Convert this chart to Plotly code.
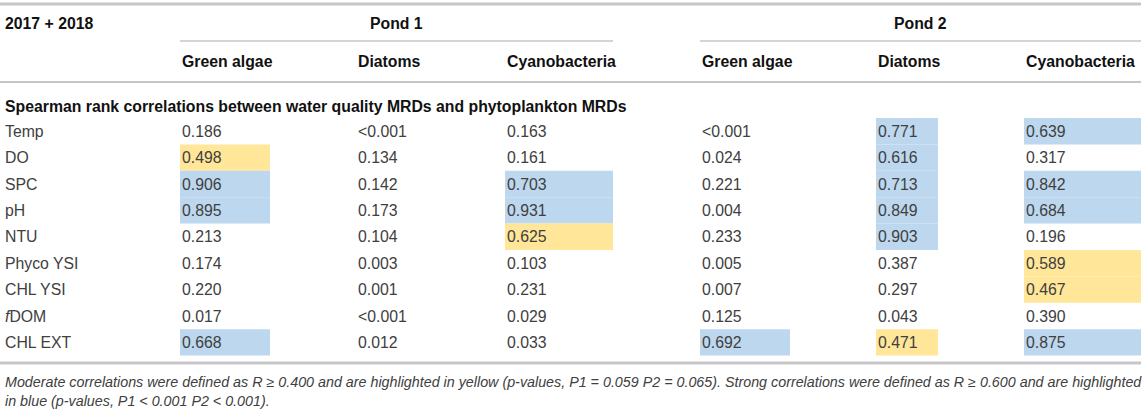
import plotly.graph_objects as go

# --- data -------------------------------------------------------------
period = "2017 + 2018"
ponds = ["Pond 1", "Pond 2"]
taxa = ["Green algae", "Diatoms", "Cyanobacteria"]
section = "Spearman rank correlations between water quality MRDs and phytoplankton MRDs"
variables = ["Temp", "DO", "SPC", "pH", "NTU", "Phyco YSI", "CHL YSI", "<i>f</i>DOM", "CHL EXT"]

p1_green = ["0.186", "0.498", "0.906", "0.895", "0.213", "0.174", "0.220", "0.017", "0.668"]
p1_diatoms = ["<0.001", "0.134", "0.142", "0.173", "0.104", "0.003", "0.001", "<0.001", "0.012"]
p1_cyano = ["0.163", "0.161", "0.703", "0.931", "0.625", "0.103", "0.231", "0.029", "0.033"]
p2_green = ["<0.001", "0.024", "0.221", "0.004", "0.233", "0.005", "0.007", "0.125", "0.692"]
p2_diatoms = ["0.771", "0.616", "0.713", "0.849", "0.903", "0.387", "0.297", "0.043", "0.471"]
p2_cyano = ["0.639", "0.317", "0.842", "0.684", "0.196", "0.589", "0.467", "0.390", "0.875"]

# highlight class per cell: m = moderate (yellow), s = strong (blue)
p1_green_hl = ["", "m", "s", "s", "", "", "", "", "s"]
p1_diatoms_hl = ["", "", "", "", "", "", "", "", ""]
p1_cyano_hl = ["", "", "s", "s", "m", "", "", "", ""]
p2_green_hl = ["", "", "", "", "", "", "", "", "s"]
p2_diatoms_hl = ["s", "s", "s", "s", "s", "", "", "", "m"]
p2_cyano_hl = ["s", "", "s", "s", "", "m", "m", "", "s"]

footnote = ("Moderate correlations were defined as R ≥ 0.400 and are highlighted in yellow "
            "(p-values, P1 = 0.059 P2 = 0.065). Strong correlations were defined as R ≥ 0.600 "
            "and are highlighted<br>in blue (p-values, P1 < 0.001 P2 < 0.001).")

# --- layout constants (pixels) ----------------------------------------
W, H = 1145, 413
RIGHT = 1141
col_x = [180, 356, 505, 700, 876, 1024]
hl_w = [90, 0, 108, 90, 62, 117]
row_y0 = 118
row_h = 26.4
FONT = "Liberation Sans, Arial, sans-serif"
HL_COLORS = {"m": "#FFE699", "s": "#BDD7EE"}
LINE = "#C6C6C6"

columns = [p1_green, p1_diatoms, p1_cyano, p2_green, p2_diatoms, p2_cyano]
highlights = [p1_green_hl, p1_diatoms_hl, p1_cyano_hl, p2_green_hl, p2_diatoms_hl, p2_cyano_hl]

fig = go.Figure()
shapes = []
annotations = []


def text(x, y, s, size=15.8, bold=False, italic=False, color="#404040", anchor="left"):
    if bold:
        s = f"<b>{s}</b>"
    if italic:
        s = f"<i>{s}</i>"
    annotations.append(dict(
        x=x, y=y, xref="x", yref="y", text=s, showarrow=False,
        xanchor=anchor, yanchor="middle", align="left",
        font=dict(family=FONT, size=size, color=color),
    ))


def hline(y, x0, x1, width):
    shapes.append(dict(type="line", xref="x", yref="y", x0=x0, x1=x1, y0=y, y1=y,
                       line=dict(color=LINE, width=width), layer="below"))


# highlighted cells
for c, (vals, hls) in enumerate(zip(columns, highlights)):
    for r, h in enumerate(hls):
        if h:
            shapes.append(dict(
                type="rect", xref="x", yref="y",
                x0=col_x[c], x1=col_x[c] + hl_w[c],
                y0=row_y0 + r * row_h, y1=row_y0 + (r + 1) * row_h,
                fillcolor=HL_COLORS[h], line=dict(width=0), layer="below",
            ))

# rules
hline(4, 0, RIGHT, 3)
hline(41, col_x[0], 613, 1.5)
hline(41, col_x[3], RIGHT, 1.5)
hline(82, 0, RIGHT, 2)
hline(363, 0, RIGHT, 3)

# header
text(3, 23, period, bold=True, color="#111111")
text((col_x[0] + 613) / 2, 23, ponds[0], bold=True, color="#111111", anchor="center")
text((col_x[3] + RIGHT) / 2, 23, ponds[1], bold=True, color="#111111", anchor="center")
for c in range(6):
    text(col_x[c], 61, taxa[c % 3], bold=True, color="#111111")
text(3, 106, section, bold=True, color="#111111")

# body
for r, v in enumerate(variables):
    yc = row_y0 + (r + 0.5) * row_h
    text(3, yc, v)
    for c, vals in enumerate(columns):
        text(col_x[c], yc, vals[r])

# footnote
annotations.append(dict(
    x=3, y=391, xref="x", yref="y", text=f"<i>{footnote}</i>", showarrow=False,
    xanchor="left", yanchor="middle", align="left",
    font=dict(family=FONT, size=14.3, color="#404040"),
))

fig.update_layout(
    width=W, height=H,
    margin=dict(l=0, r=0, t=0, b=0),
    paper_bgcolor="white", plot_bgcolor="white",
    xaxis=dict(range=[0, W], visible=False, fixedrange=True),
    yaxis=dict(range=[H, 0], visible=False, fixedrange=True),
    shapes=shapes,
    annotations=annotations,
    showlegend=False,
    hovermode=False,
)

# the page body has a default 8px margin; drop it so the table sits at the window edge
fig.write_html("out.html", config={"displayModeBar": False},
               post_script="document.body.style.margin='0';")
